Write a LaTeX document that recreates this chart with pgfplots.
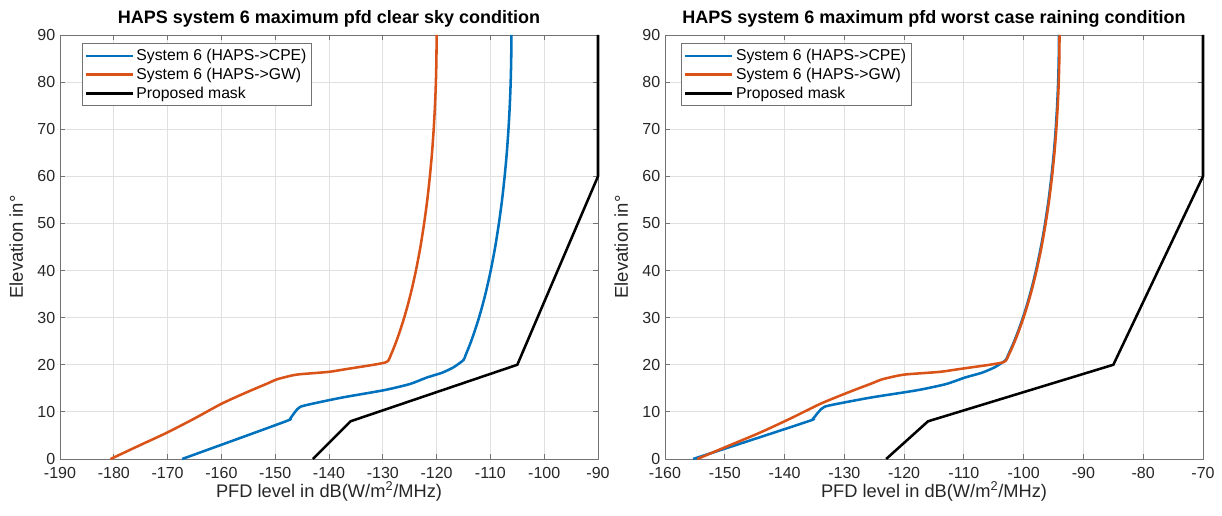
\documentclass[border=0pt]{standalone}
\usepackage{fontspec}
\setmainfont{Liberation Sans}
\usepackage{pgfplots}
\pgfplotsset{compat=1.18}
\definecolor{mblue}{HTML}{0072BD}
\definecolor{morange}{HTML}{D95319}
\definecolor{axgray}{HTML}{262626}
\pgfplotsset{
  mystyle/.style={
    scale only axis, width=403.5pt, height=318pt,
    ymin=0, ymax=90, ytick={0,10,...,90},
    grid=major, major grid style={black!12, line width=0.6pt},
    axis line style={black!55, line width=0.6pt},
    tick style={black!55, line width=0.6pt},
    tick align=inside, major tick length=3.75pt,
    /pgf/number format/assume math mode=true,
    tick label style={font=\fontsize{12}{14}\selectfont, text=axgray},
    xticklabel style={yshift=-3pt},
    xlabel style={font=\fontsize{13.7}{15}\selectfont, text=axgray, at={(axis description cs:0.5,-0.0912)}, anchor=base},
    ylabel style={font=\fontsize{13.9}{15}\selectfont, text=axgray, at={(axis description cs:-0.069,0.5)}, anchor=base},
    title style={font=\bfseries\fontsize{13.5}{15}\selectfont, text=black, at={(axis description cs:0.5,1.008)}, anchor=base},
    legend style={font=\fontsize{11.8}{13}\selectfont, text=black, draw=black!55, line width=0.6pt,
      at={(axis description cs:0.04,0.98)}, anchor=north west, row sep=0pt, inner sep=2pt},
    legend cell align=left,
    legend image code/.code={\draw[#1, line width=1.9pt, sharp plot] (0pt,0pt) -- (35pt,0pt);},
    every axis plot/.append style={line width=1.9pt, smooth, tension=0.4},
    clip=false,
    xlabel={PFD level in dB(W/m\textsuperscript{2}/MHz)},
    ylabel={Elevation in°},
  }
}
\begin{document}
\begin{tikzpicture}
\useasboundingbox (-45pt,-42.75pt) rectangle (871.5pt,344.25pt);
\begin{axis}[mystyle, at={(0pt,0pt)},
  xmin=-190, xmax=-90, xtick={-190,-180,...,-90},
  title={HAPS system 6 maximum pfd clear sky condition}]
\addplot[mblue] coordinates {
(-167.3,0) (-157.5,4.05) (-147.8,8.1) (-147.2,8.6) (-146.3,10.0) (-145.3,11.1) (-142,12.0) (-137.3,13.1)
(-129.8,14.6) (-125,15.9) (-121.8,17.3) (-119,18.3) (-116.8,19.5) (-115.01,21)
(-114.63,22) (-114.26,23) (-113.91,24) (-113.58,25) (-112.96,27) (-112.12,30) (-111.38,33)
(-110.72,36) (-109.94,40) (-109.11,45) (-108.42,50) (-107.83,55) (-107.35,60) (-106.95,65)
(-106.64,70) (-106.40,75) (-106.23,80) (-106.13,85) (-106.1,90)};
\addlegendentry{System 6 (HAPS->CPE)}
\addplot[morange] coordinates {
(-180.6,0) (-175,3.0) (-170.1,5.6) (-165,8.6) (-160.2,11.6) (-157,13.3) (-154,14.8)
(-151.5,16.0) (-149.7,16.9) (-147,17.7) (-145.3,18.0) (-140,18.5) (-136.7,19.1)
(-131.7,20.0) (-129.5,20.5) (-128.91,21)
(-128.53,22) (-128.16,23) (-127.81,24) (-127.48,25) (-126.86,27) (-126.02,30) (-125.28,33)
(-124.62,36) (-123.84,40) (-123.01,45) (-122.32,50) (-121.73,55) (-121.25,60) (-120.85,65)
(-120.54,70) (-120.30,75) (-120.13,80) (-120.03,85) (-120,90)};
\addlegendentry{System 6 (HAPS->GW)}
\addplot[black, sharp plot] coordinates {(-143,0) (-136,8) (-105,20) (-90,60) (-90,90)};
\addlegendentry{Proposed mask}
\end{axis}
\begin{axis}[mystyle, at={(453.75pt,0pt)},
  xmin=-160, xmax=-70, xtick={-160,-150,...,-70},
  legend style={at={(axis description cs:0.03,0.98)}},
  title={HAPS system 6 maximum pfd worst case raining condition}]
\addplot[mblue] coordinates {
(-155.3,0) (-145.5,4.05) (-135.8,8.1) (-135.2,8.6) (-134.3,10.0) (-133.3,11.1) (-130,12.0) (-125.3,13.1)
(-117.8,14.6) (-113,15.9) (-109.8,17.3) (-107,18.3) (-104.8,19.5) (-103.01,21)
(-102.63,22) (-102.26,23) (-101.91,24) (-101.58,25) (-100.96,27) (-100.12,30) (-99.38,33)
(-98.72,36) (-97.94,40) (-97.11,45) (-96.42,50) (-95.83,55) (-95.35,60) (-94.95,65)
(-94.64,70) (-94.40,75) (-94.23,80) (-94.13,85) (-94.1,90)};
\addlegendentry{System 6 (HAPS->CPE)}
\addplot[morange] coordinates {
(-154.6,0) (-149,3.0) (-144.1,5.6) (-139,8.6) (-134.2,11.6) (-131,13.3) (-128,14.8)
(-125.5,16.0) (-123.7,16.9) (-121,17.7) (-119.3,18.0) (-114,18.5) (-110.7,19.1)
(-105.7,20.0) (-103.5,20.5) (-102.91,21)
(-102.53,22) (-102.16,23) (-101.81,24) (-101.48,25) (-100.86,27) (-100.02,30) (-99.28,33)
(-98.62,36) (-97.84,40) (-97.01,45) (-96.32,50) (-95.73,55) (-95.25,60) (-94.85,65)
(-94.54,70) (-94.30,75) (-94.13,80) (-94.03,85) (-94,90)};
\addlegendentry{System 6 (HAPS->GW)}
\addplot[black, sharp plot] coordinates {(-123,0) (-116,8) (-85,20) (-70,60) (-70,90)};
\addlegendentry{Proposed mask}
\end{axis}
\end{tikzpicture}
\end{document}
